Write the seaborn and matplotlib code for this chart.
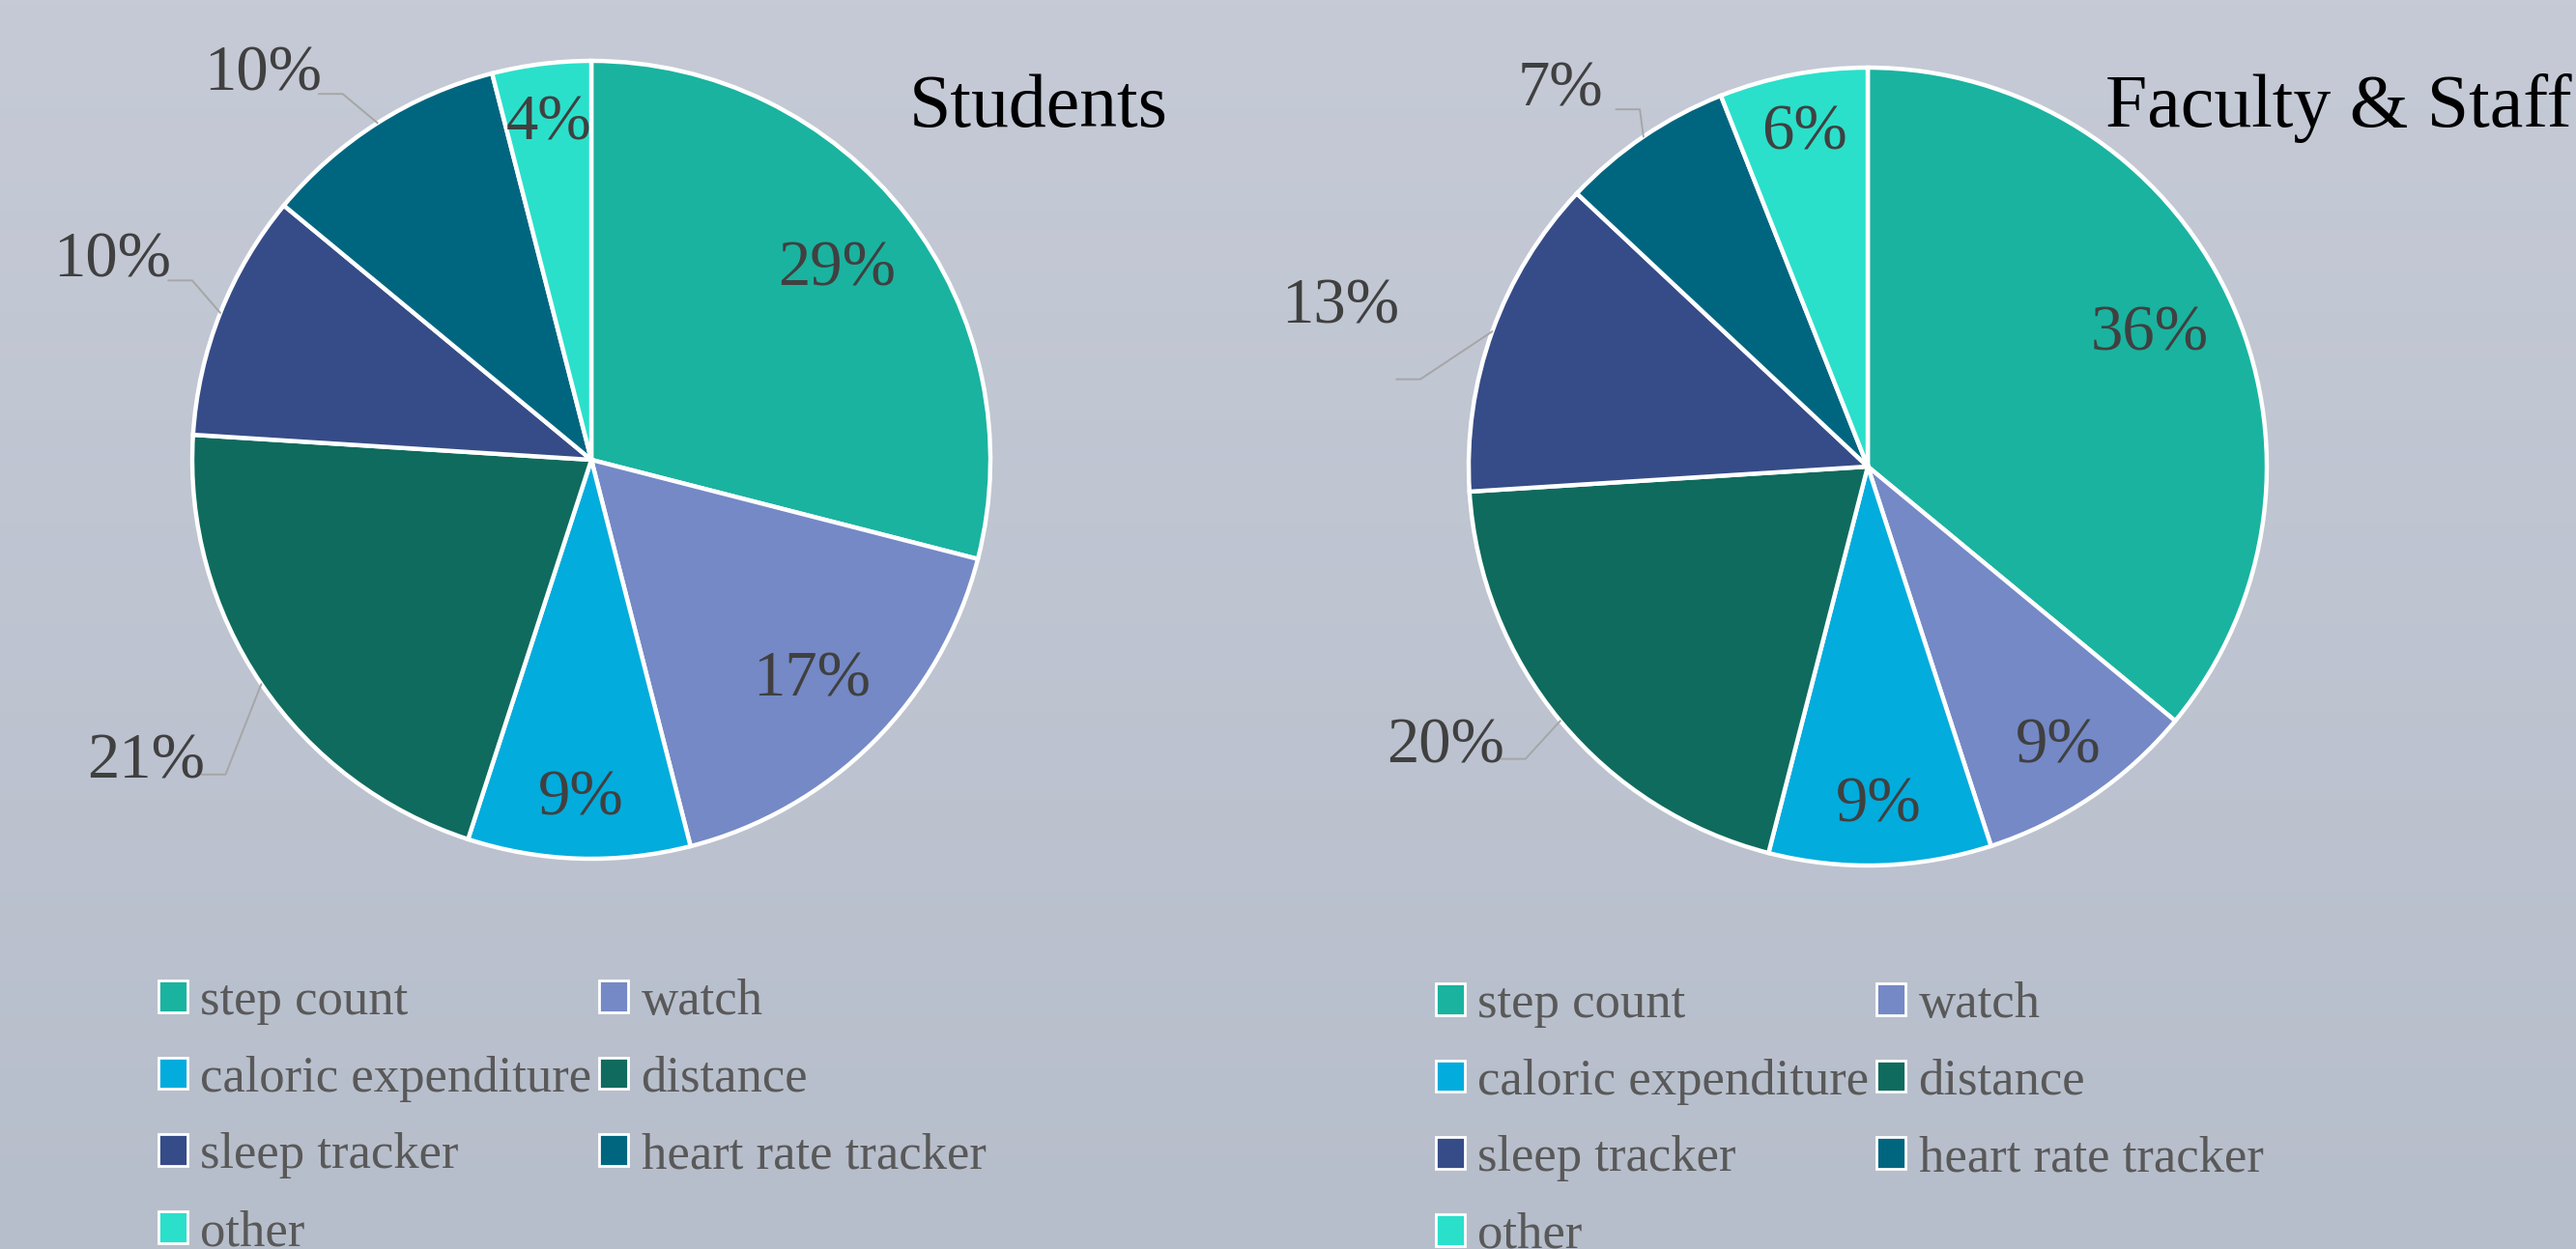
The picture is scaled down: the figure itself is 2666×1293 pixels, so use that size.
import numpy as np
import matplotlib
matplotlib.use("Agg")
import matplotlib.pyplot as plt
import seaborn as sns
from matplotlib.patches import Patch
from matplotlib.colors import LinearSegmentedColormap

CATEGORIES = ["step count", "watch", "caloric expenditure", "distance",
              "sleep tracker", "heart rate tracker", "other"]
STUDENTS = [29, 17, 9, 21, 10, 10, 4]
FACULTY = [36, 9, 9, 20, 13, 7, 6]
TITLES = ["Students", "Faculty & Staff"]
COLORS = ["#1ab3a0", "#7489c6", "#02acdd", "#0f6b5e",
          "#364c88", "#006680", "#2ae0cb"]

# slices whose label sits outside:
# index -> (radius, angle shift in degrees, leader drop below label)
OUTSIDE = [
    {3: (1.35, 0, 0.03), 4: (1.30, -1, 0.05), 5: (1.27, 8, 0.05)},
    {3: (1.27, -6, 0.03), 4: (1.38, 3, 0.18), 5: (1.22, 5, 0.05)},
]

sns.set_style("white")
plt.rcParams["font.family"] = ["Liberation Serif", "DejaVu Serif"]

W, H = 2666, 1293
fig = plt.figure(figsize=(W / 100, H / 100), dpi=100)

# soft grey-blue gradient background
bg = fig.add_axes([0, 0, 1, 1], zorder=-10)
grad = np.linspace(0, 1, 256).reshape(-1, 1)
cmap = LinearSegmentedColormap.from_list("bg", ["#c5cad6", "#b7becb"])
bg.imshow(grad, aspect="auto", cmap=cmap, extent=[0, 1, 0, 1])
bg.axis("off")

PIES = [(STUDENTS, (612, 476), (1075, 112), (164, 1013)),
        (FACULTY, (1933, 483), (2420, 112), (1486, 1016))]
R = 413

for k, (values, (cx, cy), (tx, ty), (lx, ly)) in enumerate(PIES):
    ax = fig.add_axes([(cx - R) / W, 1 - (cy + R) / H, 2 * R / W, 2 * R / H])
    wedges, texts, autotexts = ax.pie(
        values, colors=COLORS, startangle=90, counterclock=False,
        autopct=lambda p: f"{p:.0f}%", pctdistance=0.8,
        wedgeprops=dict(edgecolor="white", linewidth=3.2),
        textprops=dict(fontsize=48, color="#404040"),
    )
    ax.set_xlim(-1, 1)
    ax.set_ylim(-1, 1)

    for i, (w, t) in enumerate(zip(wedges, autotexts)):
        mid = np.deg2rad((w.theta1 + w.theta2) / 2)
        if i in OUTSIDE[k]:
            r, shift, drop = OUTSIDE[k][i]
            a = mid + np.deg2rad(shift)
            lxp, lyp = r * np.cos(a), r * np.sin(a)
            t.set_position((lxp, lyp))
            t.set_ha("center")
            t.set_va("center")
            y_line = lyp - drop
            ax.plot([lxp + 0.14, lxp + 0.2, np.cos(mid)],
                    [y_line, y_line, np.sin(mid)],
                    color="#a6a6a6", lw=1.4, clip_on=False)
        else:
            d = 0.78 if values[i] > 15 else 0.85
            t.set_position((d * np.cos(mid), d * np.sin(mid)))

    fig.text(tx / W, 1 - ty / H, TITLES[k], fontsize=56, color="black",
             ha="center", va="center")

    order = [0, 2, 4, 6, 1, 3, 5]
    handles = [Patch(facecolor=COLORS[i], edgecolor="white", linewidth=2)
               for i in order]
    labels = [CATEGORIES[i] for i in order]
    fig.legend(handles, labels, ncol=2, loc="upper left",
               bbox_to_anchor=(lx / W, 1 - ly / H), frameon=False,
               fontsize=38, labelcolor="#595959",
               handlelength=0.57, handleheight=0.57, handletextpad=0.25,
               columnspacing=0.15, labelspacing=0.6,
               borderpad=0, borderaxespad=0)

fig.savefig("out.png", dpi=100)
